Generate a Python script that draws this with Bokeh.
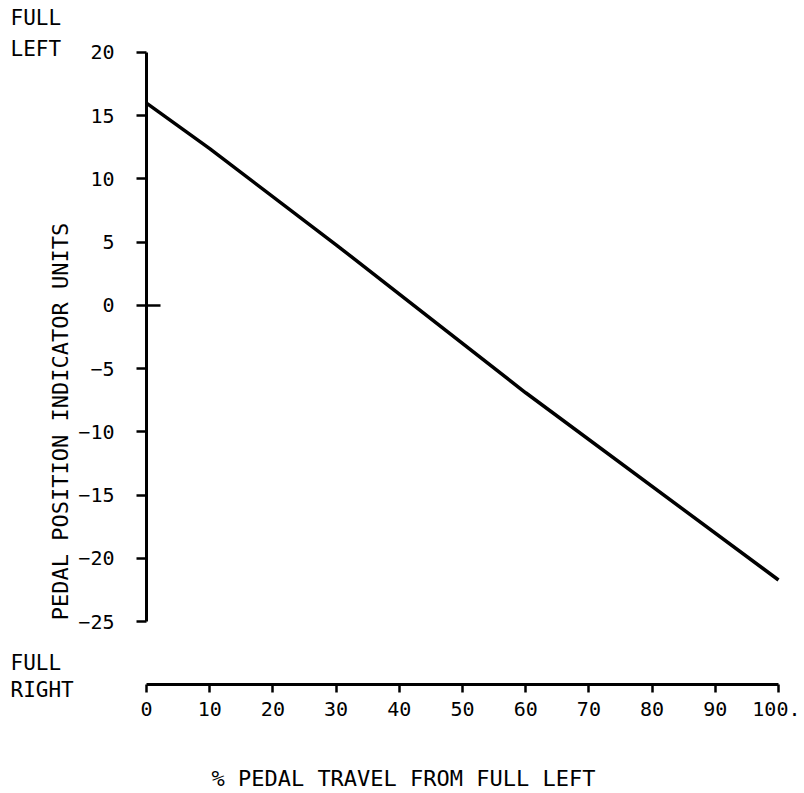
from bokeh.plotting import figure
from bokeh.models import Label, FixedTicker, Range1d, LinearAxis
from bokeh.embed import file_html
from bokeh.resources import INLINE

# data
travel_pct = [0, 10, 30, 60, 100]
indicator_units = [16.0, 12.4, 4.8, -6.9, -21.7]

x_ticks = [0, 10, 20, 30, 40, 50, 60, 70, 80, 90, 100]
x_tick_labels = {100: "100."}
y_ticks = [-25, -20, -15, -10, -5, 0, 5, 10, 15, 20]
zero_tick = [0]

FONT = "DejaVu Sans Mono"

p = figure(width=800, height=790, output_backend="svg", toolbar_location=None,
           x_range=Range1d(-23.10, 103.48), y_range=Range1d(-38.34, 24.11),
           x_axis_location=None, y_axis_location=None,
           min_border=0)
p.outline_line_color = None
p.grid.grid_line_color = None
p.background_fill_color = "white"
p.border_fill_color = "white"

p.line(travel_pct, indicator_units, line_color="black", line_width=3.5)

xa = LinearAxis(fixed_location=-30)
xa.ticker = FixedTicker(ticks=x_ticks)
xa.bounds = (0, 100)
xa.major_label_overrides = x_tick_labels
xa.axis_line_width = 3
xa.axis_line_color = "black"
xa.major_tick_line_width = 2.5
xa.major_tick_out = 8
xa.major_tick_in = 0
xa.minor_tick_line_color = None
xa.major_label_standoff = 9
xa.major_label_text_font = FONT
xa.major_label_text_font_size = "20px"
xa.major_label_text_color = "black"
p.add_layout(xa, "below")

ya = LinearAxis(fixed_location=0)
ya.ticker = FixedTicker(ticks=y_ticks)
ya.bounds = (-25, 20)
ya.axis_line_width = 3
ya.axis_line_color = "black"
ya.major_tick_line_width = 2.5
ya.major_tick_out = 10
ya.major_tick_in = 0
ya.minor_tick_line_color = None
ya.major_label_standoff = 22
ya.major_label_text_font = FONT
ya.major_label_text_font_size = "20px"
ya.major_label_text_color = "black"
p.add_layout(ya, "left")

# the zero tick also crosses to the right of the y axis
yz = LinearAxis(fixed_location=0)
yz.ticker = FixedTicker(ticks=zero_tick)
yz.axis_line_color = None
yz.major_tick_line_width = 2.5
yz.major_tick_out = 0
yz.major_tick_in = 14
yz.minor_tick_line_color = None
yz.major_label_text_font_size = "0px"
yz.major_label_text_color = None
p.add_layout(yz, "left")

def add_label(text, x, y, align="left", angle=0, size="21px"):
    p.add_layout(Label(x=x, y=y, text=text, text_font=FONT, text_font_size=size,
                       text_align=align, text_baseline="middle", angle=angle,
                       text_color="black"))

add_label("FULL", -21.52, 22.69)
add_label("LEFT", -21.52, 20.24)
add_label("FULL", -21.52, -28.30)
add_label("RIGHT", -21.52, -30.43)
add_label("PEDAL POSITION INDICATOR UNITS", -13.61, -9.17, align="center", angle=1.5708, size="22px")
add_label("% PEDAL TRAVEL FROM FULL LEFT", 40.66, -37.39, align="center", size="22px")

open("out.html", "w").write(file_html(p, INLINE))
